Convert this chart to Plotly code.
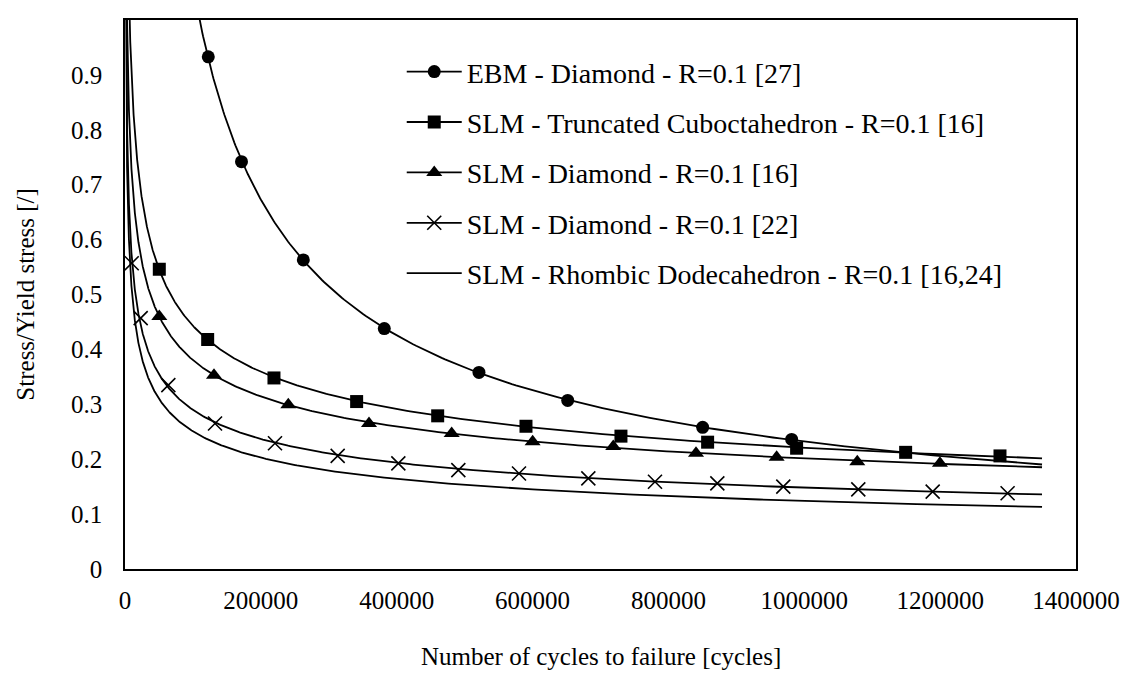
import numpy as np
import plotly.graph_objects as go

# ---- data ----
ebm_x = [122600, 171500, 262500, 381700, 521100, 651700, 850400, 981400]
ebm_y = [0.933, 0.742, 0.563, 0.438, 0.358, 0.307, 0.258, 0.236]

tco_x = [50500, 121700, 219300, 341000, 460300, 590300, 730100, 857700, 988700, 1149200, 1288100]
tco_y = [0.546, 0.418, 0.348, 0.305, 0.279, 0.260, 0.242, 0.231, 0.220, 0.2125, 0.206]

dia16_x = [50500, 131000, 240400, 359200, 480900, 600100, 718800, 840600, 959300, 1078000, 1199700]
dia16_y = [0.460, 0.353, 0.299, 0.265, 0.247, 0.232, 0.223, 0.211, 0.2035, 0.1955, 0.1925]

dia22_x = [9900, 23100, 63800, 132500, 220800, 313100, 402400, 490700, 580000, 682100,
           780200, 872000, 969100, 1079500, 1189000, 1299300]
dia22_y = [0.557, 0.457, 0.335, 0.265, 0.229, 0.206, 0.1925, 0.180, 0.174, 0.165,
           0.159, 0.156, 0.150, 0.145, 0.141, 0.138]

# Rhombic dodecahedron: line only
rd_x = [22100, 218300, 414600, 610900, 1350000]
rd_y = [0.400, 0.194, 0.164, 0.144, 0.1135]

names = [
    "EBM - Diamond - R=0.1 [27]",
    "SLM - Truncated Cuboctahedron - R=0.1 [16]",
    "SLM - Diamond - R=0.1 [16]",
    "SLM - Diamond - R=0.1 [22]",
    "SLM - Rhombic Dodecahedron - R=0.1 [16,24]",
]
x_title = "Number of cycles to failure [cycles]"
y_title = "Stress/Yield stress [/]"
x_ticks = [0, 200000, 400000, 600000, 800000, 1000000, 1200000, 1400000]
y_ticks = [0, 0.1, 0.2, 0.3, 0.4, 0.5, 0.6, 0.7, 0.8, 0.9, 1]

X_END = 1350000
FONT = "Liberation Serif, Times New Roman, serif"
LW = 1.8


def power_trend(xs, ys):
    b, lna = np.polyfit(np.log(xs), np.log(ys), 1)
    xx = np.geomspace(300, X_END, 800)
    return xx, np.exp(lna) * xx ** b


series = [
    (ebm_x, ebm_y, "circle", 13),
    (tco_x, tco_y, "square", 13),
    (dia16_x, dia16_y, "triangle-up", 14),
    (dia22_x, dia22_y, "x-thin", 14),
    (rd_x, rd_y, None, 0),
]

fig = go.Figure()
for i, (xs, ys, sym, size) in enumerate(series):
    tx, ty = power_trend(xs, ys)
    fig.add_trace(go.Scatter(x=tx, y=ty, mode="lines", line=dict(color="black", width=LW),
                             showlegend=False, hoverinfo="skip"))
    if sym is not None:
        mk = dict(symbol=sym, size=size, color="black")
        if sym == "x-thin":
            mk["line"] = dict(color="black", width=1.6)
        fig.add_trace(go.Scatter(x=xs, y=ys, mode="markers", marker=mk, showlegend=False))
        fig.add_trace(go.Scatter(x=[None], y=[None], mode="lines+markers", name=names[i],
                                 line=dict(color="black", width=LW), marker=mk,
                                 legendgroup=f"g{i}", showlegend=True))
    else:
        fig.add_trace(go.Scatter(x=[None], y=[None], mode="lines", name=names[i],
                                 line=dict(color="black", width=LW),
                                 legendgroup=f"g{i}", showlegend=True))

# axis titles as annotations for exact placement
fig.add_annotation(text=x_title, xref="paper", yref="paper", x=0.5, y=-0.160,
                   xanchor="center", yanchor="middle", showarrow=False,
                   font=dict(family=FONT, size=25, color="black"))
fig.add_annotation(text=y_title, xref="paper", yref="paper", x=-0.105, y=0.5,
                   xanchor="center", yanchor="middle", showarrow=False, textangle=-90,
                   font=dict(family=FONT, size=25, color="black"))

fig.update_layout(
    width=1134, height=673,
    margin=dict(l=117, r=66, t=12, b=112),
    paper_bgcolor="white", plot_bgcolor="white",
    font=dict(family=FONT, size=25, color="black"),
    showlegend=True,
    legend=dict(x=0.291, y=0.951, xanchor="left", yanchor="top",
                bgcolor="rgba(0,0,0,0)", font=dict(family=FONT, size=28, color="black"),
                tracegroupgap=11, itemwidth=55),
    xaxis=dict(range=[0, 1400000], tickvals=x_ticks, tickformat="d", automargin=False,
               showgrid=False, zeroline=False, showline=True, linecolor="black",
               linewidth=1.5, mirror=True, ticks="", ticklabelstandoff=8),
    yaxis=dict(range=[0, 1], tickvals=y_ticks, automargin=False,
               showgrid=False, zeroline=False, showline=True, linecolor="black",
               linewidth=1.5, mirror=True, ticks="", ticklabelstandoff=16),
)

fig.write_html("out.html")
